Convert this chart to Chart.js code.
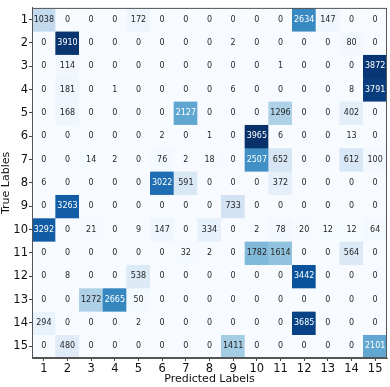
<!DOCTYPE html>
<html>
<head>
<meta charset="utf-8">
<script src="https://cdn.jsdelivr.net/npm/chart.js@4"></script>
<style>
  html, body { margin: 0; padding: 0; background: #fff; }
  #wrap { width: 390px; height: 387px; }
</style>
</head>
<body>
<div id="wrap"><canvas id="cm"></canvas></div>
<script>
// class labels (1..15)
const predictedLabels = ["1", "2", "3", "4", "5", "6", "7", "8", "9", "10", "11", "12", "13", "14", "15"];
const trueLabels = [1, 2, 3, 4, 5, 6, 7, 8, 9, 10, 11, 12, 13, 14, 15];

// confusion matrix, one row per true label
const counts = [
    [1038, 0, 0, 0, 172, 0, 0, 0, 0, 0, 0, 2634, 147, 0, 0],
    [0, 3910, 0, 0, 0, 0, 0, 0, 2, 0, 0, 0, 0, 80, 0],
    [0, 114, 0, 0, 0, 0, 0, 0, 0, 0, 1, 0, 0, 0, 3872],
    [0, 181, 0, 1, 0, 0, 0, 0, 6, 0, 0, 0, 0, 8, 3791],
    [0, 168, 0, 0, 0, 0, 2127, 0, 0, 0, 1296, 0, 0, 402, 0],
    [0, 0, 0, 0, 0, 2, 0, 1, 0, 3965, 6, 0, 0, 13, 0],
    [0, 0, 14, 2, 0, 76, 2, 18, 0, 2507, 652, 0, 0, 612, 100],
    [6, 0, 0, 0, 0, 3022, 591, 0, 0, 0, 372, 0, 0, 0, 0],
    [0, 3263, 0, 0, 0, 0, 0, 0, 733, 0, 0, 0, 0, 0, 0],
    [3292, 0, 21, 0, 9, 147, 0, 334, 0, 2, 78, 20, 12, 12, 64],
    [0, 0, 0, 0, 0, 0, 32, 2, 0, 1782, 1614, 0, 0, 564, 0],
    [0, 8, 0, 0, 538, 0, 0, 0, 0, 0, 0, 3442, 0, 0, 0],
    [0, 0, 1272, 2665, 50, 0, 0, 0, 0, 0, 0, 0, 0, 0, 0],
    [294, 0, 0, 0, 2, 0, 0, 0, 0, 0, 0, 3685, 0, 0, 0],
    [0, 480, 0, 0, 0, 0, 0, 0, 1411, 0, 0, 0, 0, 0, 2101]
];

// matplotlib "Blues"
const blues = ["#f7fbff", "#deebf7", "#c6dbef", "#9ecae1", "#6baed6", "#4292c6", "#2171b5", "#08519c", "#08306b"];
const vmax = Math.max(...counts.flat());

function hexToRgb(h) {
    return [parseInt(h.slice(1, 3), 16), parseInt(h.slice(3, 5), 16), parseInt(h.slice(5, 7), 16)];
}

function bluesColor(v) {
    const t = Math.min(1, Math.max(0, v / vmax)) * (blues.length - 1);
    const i = Math.min(Math.floor(t), blues.length - 2);
    const f = t - i;
    const a = hexToRgb(blues[i]), b = hexToRgb(blues[i + 1]);
    const c = a.map((x, k) => Math.round(x + (b[k] - x) * f));
    return "rgb(" + c.join(",") + ")";
}

// each true label becomes one dataset of floating bars spanning its row
const datasets = trueLabels.map((r, i) => ({
    data: predictedLabels.map(() => [r - 0.5, r + 0.5]),
    counts: counts[i],
    backgroundColor: counts[i].map(bluesColor),
    borderWidth: 0,
    barPercentage: 1,
    categoryPercentage: 1,
    grouped: false
}));

// cell numbers + frame
const cellText = {
    id: "cellText",
    afterDatasetsDraw(chart) {
        const ctx = chart.ctx;
        ctx.save();
        ctx.font = "8px 'DejaVu Sans'";
        ctx.textAlign = "center";
        ctx.textBaseline = "middle";
        chart.data.datasets.forEach((ds, i) => {
            chart.getDatasetMeta(i).data.forEach((bar, j) => {
                const v = ds.counts[j];
                const p = bar.getCenterPoint();
                ctx.fillStyle = v > vmax / 2 ? "#ffffff" : "#262626";
                ctx.fillText(String(v), p.x, p.y);
            });
        });
        const a = chart.chartArea;
        ctx.strokeStyle = "#555";
        ctx.lineWidth = 1;
        ctx.strokeRect(a.left + 0.5, a.top + 0.5, a.right - a.left - 1, a.bottom - a.top - 1);
        ctx.restore();
    }
};

new Chart(document.getElementById("cm"), {
    type: "bar",
    data: { labels: predictedLabels, datasets: datasets },
    options: {
        responsive: true,
        maintainAspectRatio: false,
        animation: false,
        layout: { padding: { top: 3, right: 3, left: 0, bottom: 0 } },
        plugins: {
            legend: { display: false },
            tooltip: { enabled: false }
        },
        scales: {
            x: {
                offset: true,
                grid: { offset: false, drawOnChartArea: false, drawTicks: true, tickLength: 3, color: "#444" },
                border: { display: true, color: "#555" },
                ticks: { color: "#111", font: { family: "DejaVu Sans", size: 11.5 }, maxRotation: 0, autoSkip: false, padding: 1 },
                title: { display: true, text: "Predicted Labels", color: "#111", font: { family: "DejaVu Sans", size: 11 }, padding: { top: 0, bottom: 1 } },
                afterFit: s => { s.height = 29; }
            },
            y: {
                type: "linear",
                reverse: true,
                min: 0.5,
                max: 15.5,
                afterBuildTicks: s => { s.ticks = trueLabels.map(v => ({ value: v })); },
                grid: { drawOnChartArea: false, drawTicks: true, tickLength: 3, color: "#444" },
                border: { display: true, color: "#555" },
                ticks: { color: "#111", font: { family: "DejaVu Sans", size: 11.5 }, padding: 1, callback: v => String(v) },
                title: { display: true, text: "True Lables", color: "#111", font: { family: "DejaVu Sans", size: 11 }, padding: { top: 0, bottom: 1 } },
                afterFit: s => { s.width = 32; }
            }
        }
    },
    plugins: [cellText]
});
</script>
</body>
</html>
